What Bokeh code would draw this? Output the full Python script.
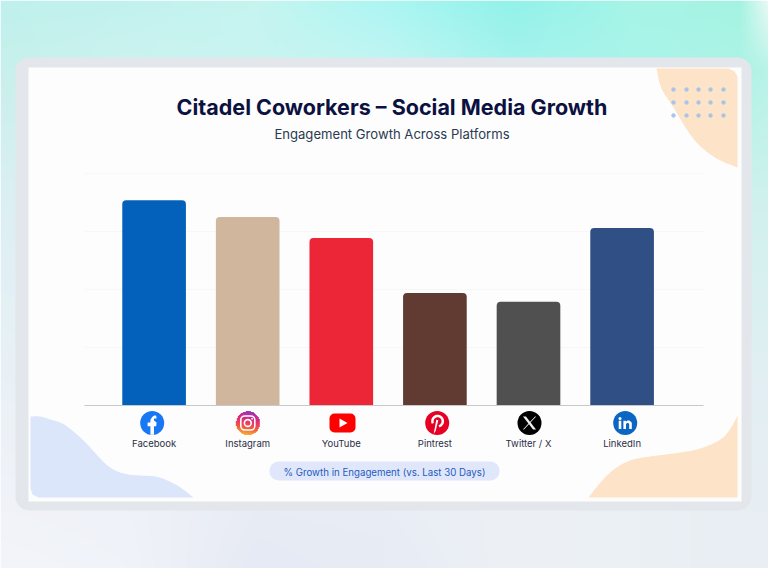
import numpy as np
from bokeh.plotting import figure
from bokeh.embed import file_html
from bokeh.resources import INLINE
from bokeh.core.properties import value
from bokeh.models import Range1d, LinearAxis, Grid, FixedTicker, ColumnDataSource

platforms = ["Facebook", "Instagram", "YouTube", "Pintrest", "Twitter / X", "LinkedIn"]
growth = [35.4, 32.5, 28.9, 19.4, 17.9, 30.6]
bar_colors = ["#0461bb", "#d1b69e", "#ec2537", "#613b32", "#505050", "#2f4f85"]
grid_values = [10, 20, 30, 40]
title = "Citadel Coworkers – Social Media Growth"
subtitle = "Engagement Growth Across Platforms"
pill_text = "% Growth in Engagement (vs. Last 30 Days)"
FONT = "Inter"

W, H = 768, 568
# Index -> page px: 154 + 93.6*i ; value -> page px: 405 - 5.825*v
x0, dx = 153.6, 93.6
y0, dy = 405.0, 5.8
p = figure(width=W, height=H, output_backend="svg", toolbar_location=None,
           x_axis_type=None, y_axis_type=None, min_border=0,
           x_range=Range1d((0 - x0) / dx, (W - x0) / dx),
           y_range=Range1d((y0 - H) / dy, (y0 - 0) / dy),
           background_fill_color=None, border_fill_color=None, outline_line_color=None)
p.extra_x_ranges["px"] = Range1d(0, W)
p.extra_y_ranges["py"] = Range1d(H, 0)
PX = dict(x_range_name="px", y_range_name="py")

def smooth(pts, closed_tail=()):
    """Catmull-Rom through decorative outline points, then straight tail points."""
    a = np.array(pts, dtype=float)
    a = np.vstack([a[0], a, a[-1]])
    out = []
    for i in range(1, len(a) - 2):
        p0, p1, p2, p3 = a[i - 1], a[i], a[i + 1], a[i + 2]
        for t in np.linspace(0, 1, 10, endpoint=False):
            out.append(0.5 * (2 * p1 + (p2 - p0) * t + (2 * p0 - 5 * p1 + 4 * p2 - p3) * t ** 2
                              + (3 * p1 - p0 - 3 * p2 + p3) * t ** 3))
    out.append(a[-2])
    out = np.array(out)
    xs = list(out[:, 0]) + [q[0] for q in closed_tail]
    ys = list(out[:, 1]) + [q[1] for q in closed_tail]
    return xs, ys

# page background
col_x = [0, 128, 256, 384, 512, 640, 740, 768]
row_y = [0, 70, 200, 380, 510, 568]
hexes = [
    ["#bff1ec", "#c2f2ee", "#c6f5f0", "#acf6f3", "#92f2ea", "#a7f5e7", "#a4f3e2", "#e8faf5"],
    ["#c8f0ec", "#cdf3f0", "#c9f4f1", "#c4f6f3", "#a8f3ee", "#aaf4ea", "#aef3e6", "#b8f3e8"],
    ["#dceff3", "#dcf0f3", "#dcf0f3", "#dcf0f3", "#d8f1f2", "#d4f2f0", "#d0f1ee", "#d0f1ee"],
    ["#eaf1f6", "#e8eff5", "#e8eff5", "#e6eff5", "#e4eff4", "#e2eff4", "#e2eff3", "#e2eff3"],
    ["#f1f3f9", "#eff2f8", "#e8ecf5", "#e9edf5", "#edf1f6", "#ebf0f5", "#e8eef3", "#e8eef3"],
    ["#f3f5fa", "#f0f3f9", "#e6eaf4", "#e7ecf5", "#edf1f6", "#ebf0f5", "#e8eef3", "#e8eef3"],
]
stops = np.array([[[int(h[i:i + 2], 16) for i in (1, 3, 5)] for h in row] for row in hexes], dtype=float)
gh, gw = H // 2, W // 2
gy, gx = np.linspace(0, H, gh), np.linspace(0, W, gw)
c = np.zeros((gh, gw, 3))
for ch in range(3):
    horiz = np.array([np.interp(gx, col_x, stops[r, :, ch]) for r in range(len(row_y))])
    for j in range(gw):
        c[:, j, ch] = np.interp(gy, row_y, horiz[:, j])
img = np.zeros((gh, gw), dtype=np.uint32)
view = img.view(dtype=np.uint8).reshape((gh, gw, 4))
view[..., :3] = c.astype(np.uint8)
view[..., 3] = 255
p.image_rgba(image=[img], x=0, y=0, dw=W, dh=H, level="image", **PX)

# card
p.quad(left=[15], right=[751], top=[57], bottom=[510], fill_color="#e3e6ea", line_color=None,
       border_radius=14, level="image", **PX)
p.quad(left=[28], right=[741], top=[67], bottom=[501], fill_color="#fdfdfe", line_color=None,
       level="image", **PX)

# corner blobs
xs, ys = smooth([(656, 68), (661, 88), (673, 107), (687, 130), (700, 146), (718, 159), (737, 167)],
                [(737, 76), (734, 71), (728, 68)])
p.patch(xs, ys, fill_color="#fde3c8", line_color=None, level="image", **PX)
xs, ys = smooth([(30, 416), (40, 416), (50, 419), (62, 423), (73, 431), (85, 442), (97, 455), (107, 465),
                 (117, 471), (128, 474), (140, 475), (155, 476), (167, 480), (180, 487), (193, 497)],
                [(38, 497), (32, 494), (30, 488)])
p.patch(xs, ys, fill_color="#dce6fb", line_color=None, level="image", **PX)
xs, ys = smooth([(737, 415), (730, 428), (720, 439), (700, 448), (680, 452), (657, 455), (637, 458),
                 (625, 462), (612, 470), (600, 482), (588, 497)],
                [(737, 497)])
p.patch(xs, ys, fill_color="#fde3c8", line_color=None, level="image", **PX)
dot_x, dot_y = np.meshgrid([673, 686, 698, 710, 723], [89, 102, 115])
p.scatter(dot_x.ravel(), dot_y.ravel(), size=3.5, color="#a9c4e8", level="image", **PX)

# pill
p.quad(left=[269], right=[499], top=[461], bottom=[480], fill_color="#e0e7fb", line_color=None,
       border_radius=9, level="image", **PX)

# grid + bars + axis from the data
span = ((84 - x0) / dx, (703 - x0) / dx)
p.add_layout(Grid(dimension=1, ticker=FixedTicker(ticks=grid_values), cross_bounds=span,
                  grid_line_color="#f7f7f8", grid_line_width=1))
src = ColumnDataSource(dict(i=list(range(len(platforms))), v=growth, c=bar_colors))
p.vbar(x="i", top="v", bottom=0, width=0.68, fill_color="c", line_color=None,
       border_radius=(4, 4, 0, 0), source=src)
axis = LinearAxis(fixed_location=0, ticker=FixedTicker(ticks=list(range(len(platforms)))),
                  major_label_overrides={i: n for i, n in enumerate(platforms)},
                  bounds=span,
                  axis_line_color="#c6c8cc", axis_line_width=1,
                  major_tick_line_color=None, minor_tick_line_color=None,
                  major_label_standoff=26, major_label_text_font=FONT,
                  major_label_text_font_size="9.5px", major_label_text_color="#2a2f45")
p.add_layout(axis, "below")

# titles
def txt(x, y, s, size, color, style="normal"):
    p.text([x], [y], text=[s], text_font=value(FONT), text_font_size=size, text_color=color,
           text_font_style=style, text_align="center", text_baseline="middle", **PX)
txt(391.5, 106, title, "21.5px", "#0b1140", "bold")
txt(391.5, 133, subtitle, "13.1px", "#2b3a4f")
txt(384, 471.5, pill_text, "9.7px", "#1f5bbd")

# platform logos (vector shapes)
cy = 422.5
cx = [151.7, 247.3, 342, 436.7, 529, 624.7]
R = 12
def poly(xs, ys, ox, color):
    p.patch([ox + a for a in xs], [cy + b for b in ys], fill_color=color, line_color=None, **PX)
def disc(x, y, r, color):
    p.circle([x], [y], radius=r, radius_units="screen", fill_color=color, line_color=None, **PX)

# Facebook
disc(cx[0], cy, R, "#1877f2")
poly([-1.8, -1.8, -4.6, -4.6, -1.8, -1.8, 0, 2, 3, 4, 4.4, 1.8, 1.8, 4.4, 4, 1.8, 1.8],
     [11.8, 3.2, 3.2, -0.4, -0.4, -3.2, -6, -7.4, -7.6, -7.3, -4.6, -4.6, -2.6, -0.4, 3.2, 3.2, 11.8],
     cx[0], "#ffffff")

# Instagram
n = 48
yy2, xx2 = np.mgrid[0:n, 0:n]
u = (xx2 + .5) / n; v = (yy2 + .5) / n
ig = np.zeros((n, n), dtype=np.uint32)
iv = ig.view(dtype=np.uint8).reshape((n, n, 4))
tt = np.clip((v * 0.85 + (1 - u) * 0.15), 0, 1)[..., None]
cols = np.array([[130, 60, 200], [220, 40, 130], [245, 90, 60], [252, 200, 50]], dtype=float)
seg = np.clip((tt * 3).astype(int), 0, 2)[..., 0]
f = (tt * 3 - seg[..., None])
iv[..., :3] = (cols[seg] * (1 - f) + cols[seg + 1] * f).astype(np.uint8)
iv[..., 3] = np.where((u - .5) ** 2 + (v - .5) ** 2 <= .25, 255, 0)
p.image_rgba(image=[ig], x=cx[1] - R, y=cy - R, dw=2 * R, dh=2 * R, **PX)
p.quad(left=[cx[1] - 7], right=[cx[1] + 7], top=[cy - 7], bottom=[cy + 7], fill_color=None,
       line_color="#ffffff", line_width=1.6, border_radius=4, **PX)
p.circle([cx[1]], [cy], radius=3.4, radius_units="screen", fill_color=None, line_color="#ffffff",
         line_width=1.6, **PX)
disc(cx[1] + 4.3, cy - 4.3, 0.9, "#ffffff")

# YouTube
p.quad(left=[cx[2] - 13], right=[cx[2] + 13], top=[cy - 9.5], bottom=[cy + 9.5], fill_color="#fe0000",
       line_color=None, border_radius=5, **PX)
poly([-3, -3, 5], [-4.5, 4.5, 0], cx[2], "#ffffff")

# Pinterest
disc(cx[3], cy, R, "#e60023")
ang = np.radians(np.linspace(205, -75, 30))
p.line(cx[3] + 0.4 + 5.2 * np.cos(ang), cy - 1.8 - 5.2 * np.sin(ang), line_color="#ffffff", line_width=2.5, **PX)
poly([-0.9, 1.1, -1.6, -3.6], [-3.2, -2.8, 8, 11], cx[3], "#ffffff")

# X
disc(cx[4], cy, R, "#000000")
poly([-6.5, -3.6, 6.5, 3.6], [-6.5, -6.5, 6.5, 6.5], cx[4], "#f2f2f2")
poly([5.5, 6.6, -5.5, -6.6], [-6.5, -6.5, 6.5, 6.5], cx[4], "#f2f2f2")

# LinkedIn
disc(cx[5], cy, R, "#0a66c2")
disc(cx[5] - 5.2, cy - 4.6, 1.5, "#ffffff")
poly([-6.5, -3.9, -3.9, -6.5], [-2.3, -2.3, 6, 6], cx[5], "#ffffff")
poly([-1.8, 0.7, 0.7, 2.2, 3.6, 4.6, 6.6, 6.6, 4, 4, 3, 1.8, 0.8, 0.8, -1.8],
     [-2.3, -2.3, -1.2, -2.4, -2.6, -2.3, -0.2, 6, 6, 1, 0, 0, 1, 6, 6], cx[5], "#ffffff")

open("out.html", "w").write(file_html(p, INLINE))
